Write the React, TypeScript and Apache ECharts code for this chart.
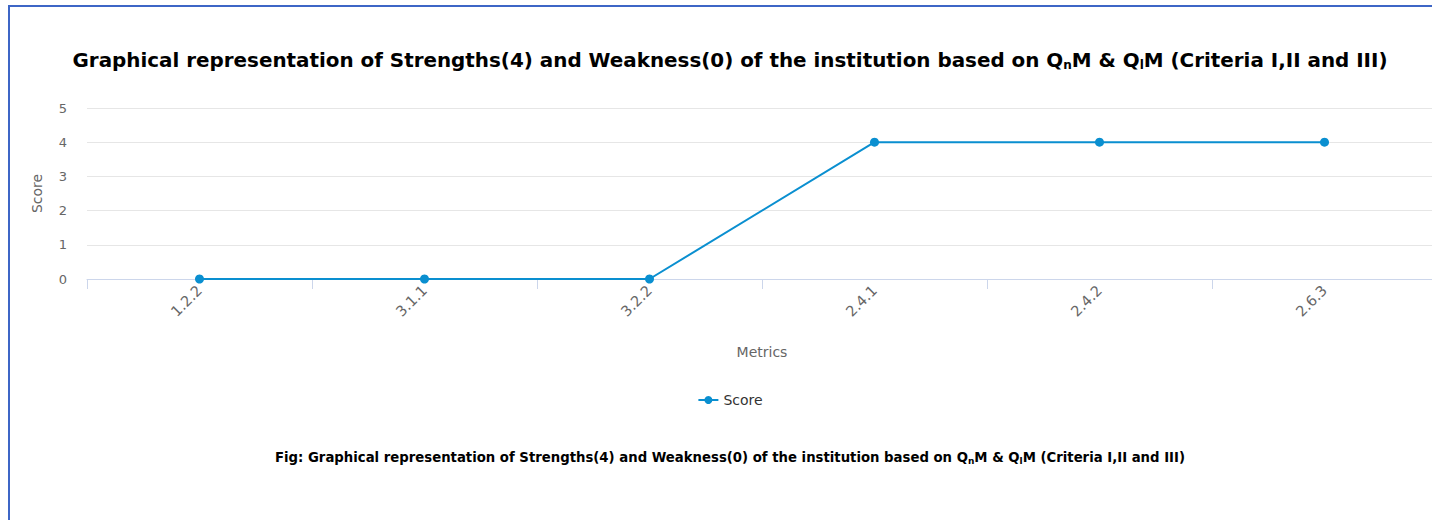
import React, { useEffect, useRef } from "react";
import * as echarts from "echarts";

const categories = ["1.2.2", "3.1.1", "3.2.2", "2.4.1", "2.4.2", "2.6.3"];
const scores = [0, 0, 0, 4, 4, 4];
const titleText =
  "Graphical representation of Strengths(4) and Weakness(0) of the institution based on Q{sub|n}M & Q{sub|l}M (Criteria I,II and III)";
const captionText =
  "Fig: Graphical representation of Strengths(4) and Weakness(0) of the institution based on Q{csub|n}M & Q{csub|l}M (Criteria I,II and III)";

const FONT = "DejaVu Sans";
const LINE_COLOR = "#0a8fd0";

export default function App() {
  const ref = useRef<HTMLDivElement>(null);
  useEffect(() => {
    if (!ref.current) return;
    const chart = echarts.init(ref.current, null, { renderer: "svg" });
    chart.setOption({
      animation: false,
      textStyle: { fontFamily: FONT },
      title: [
        {
          text: titleText,
          left: "center",
          top: 44,
          textStyle: {
            fontFamily: FONT,
            fontSize: 19.9,
            fontWeight: "bold",
            color: "#000",
            rich: {
              sub: { fontFamily: FONT, fontSize: 12, fontWeight: "bold", color: "#000", padding: [10, 0, 0, 0] },
            },
          },
        },
        {
          text: captionText,
          left: "center",
          top: 445,
          textStyle: {
            fontFamily: FONT,
            fontSize: 13.25,
            fontWeight: "bold",
            color: "#000",
            rich: {
              csub: { fontFamily: FONT, fontSize: 9, fontWeight: "bold", color: "#000", padding: [6, 0, 0, 0] },
            },
          },
        },
      ],
      legend: {
        data: ["Score"],
        left: "center",
        top: 388,
        itemWidth: 20,
        itemHeight: 10,
        textStyle: { fontFamily: FONT, fontSize: 14, color: "#333" },
      },
      grid: { left: 87, right: 23, top: 108, height: 171, containLabel: false },
      xAxis: {
        type: "category",
        data: categories,
        name: "Metrics",
        nameLocation: "middle",
        nameGap: 66,
        nameTextStyle: { fontFamily: FONT, fontSize: 14, color: "#666" },
        axisLine: { lineStyle: { color: "#ccd6eb", width: 1 } },
        axisTick: { show: true, length: 10, lineStyle: { color: "#ccd6eb" } },
        axisLabel: { rotate: 45, margin: 9, fontFamily: FONT, fontSize: 14.5, color: "#666" },
      },
      yAxis: {
        type: "value",
        min: 0,
        max: 5,
        interval: 1,
        name: "Score",
        nameLocation: "middle",
        nameGap: 43,
        nameTextStyle: { fontFamily: FONT, fontSize: 14, color: "#666" },
        axisLine: { show: false },
        axisTick: { show: false },
        axisLabel: { margin: 20, fontFamily: FONT, fontSize: 13, color: "#666" },
        splitLine: { lineStyle: { color: "#e6e6e6", width: 1 } },
      },
      series: [
        {
          name: "Score",
          type: "line",
          data: scores,
          color: LINE_COLOR,
          symbol: "circle",
          symbolSize: 9,
          lineStyle: { width: 2, color: LINE_COLOR },
          itemStyle: { color: LINE_COLOR },
        },
      ],
    });
    return () => chart.dispose();
  }, []);

  return (
    <div style={{ position: "fixed", left: 0, top: 0, width: 1432, height: 520, overflow: "hidden", background: "#fff" }}>
      <div
        style={{
          position: "absolute",
          left: 8,
          top: 5,
          width: 1500,
          height: 600,
          borderLeft: "2px solid #3d66c6",
          borderTop: "2px solid #3d66c6",
        }}
      />
      <div ref={ref} style={{ position: "absolute", left: 0, top: 0, width: 1460, height: 520 }} />
    </div>
  );
}
